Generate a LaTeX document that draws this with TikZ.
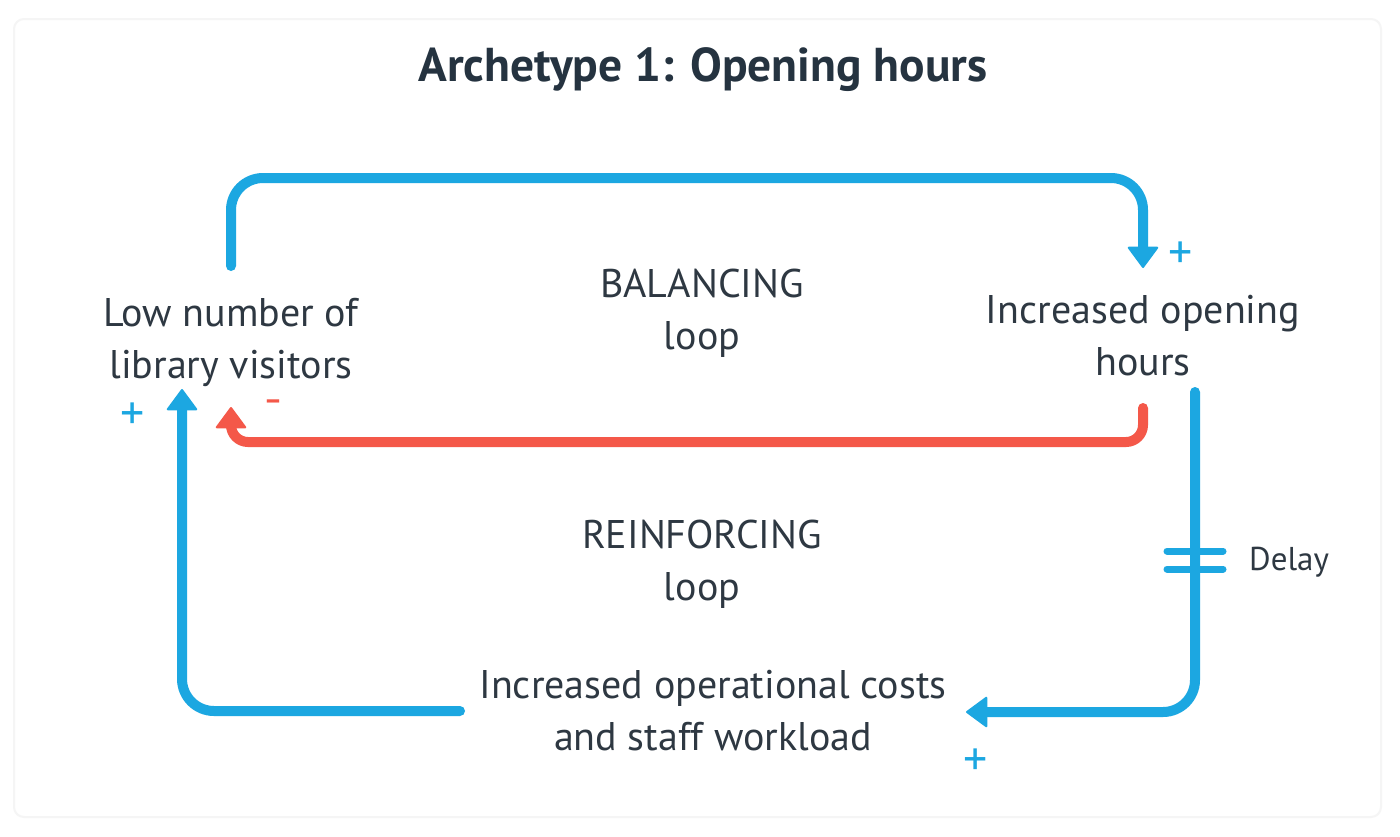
\documentclass[tikz,border=0pt]{standalone}
\usepackage{fontspec}
\setmainfont{PT Sans}
\usetikzlibrary{arrows.meta}
\definecolor{cblue}{HTML}{1CA7E1}
\definecolor{cred}{HTML}{F45849}
\definecolor{ctext}{HTML}{2E3842}
\definecolor{ctitle}{HTML}{253340}
\tikzset{
  lbl/.style={text=ctext, font=\fontsize{40}{52}\selectfont, align=center, inner sep=0pt, anchor=base},
  sign/.style={font=\fontsize{48}{48}\selectfont, inner sep=0pt},
  link/.style={line width=10pt, rounded corners=32pt, line cap=round},
  tip/.style={-{Triangle[length=22pt,width=32pt,line width=2pt,round]}},
  delaybar/.style={line width=7pt, line cap=round, cblue}
}
\begin{document}
\begin{tikzpicture}[x=1pt,y=-1pt]
\useasboundingbox (0,0) rectangle (1400,836);
\fill[white] (0,0) rectangle (1400,836);
\draw[black!4, line width=2pt, rounded corners=10pt] (14,19) rectangle (1381,817);

\node[text=ctitle, font=\fontsize{47.5}{50}\selectfont\bfseries, inner sep=0pt, anchor=base] (title) at (703,81) {Archetype 1: Opening hours};

\node[lbl] (visitors) at (231,378) {Low number of\\library visitors};
\node[lbl] (hours) at (1143,375) {Increased opening\\hours};
\node[lbl] (costs) at (713,750) {Increased operational costs\\and staff workload};
\node[lbl] (bal) at (702,349) {BALANCING\\loop};
\node[lbl] (rein) at (702,600) {REINFORCING\\loop};
\node[text=ctext, font=\fontsize{33}{34}\selectfont, inner sep=0pt, anchor=west] (delay) at (1249,562) {Delay};

\node[sign, text=cblue] (p1) at (1181,255) {+};
\node[sign, text=cblue] (p2) at (133,416) {+};
\node[sign, text=cblue] (p3) at (976,762) {+};
\node[sign, text=cred, font=\fontsize{28}{28}\selectfont\bfseries] (m1) at (273,405) {–};

% connector end points
\coordinate (a1) at (231,266);
\coordinate (a2) at (1143,268);
\coordinate (r1) at (1143,408);
\coordinate (r2) at (231,407);
\coordinate (b1) at (1195,392);
\coordinate (b2) at (966,712);
\coordinate (c1) at (460,711);
\coordinate (c2) at (182,389);
\coordinate (d1) at (1167,551);
\coordinate (d2) at (1223,551);
\coordinate (d3) at (1167,569);
\coordinate (d4) at (1223,569);

\draw[link, cblue, tip] (a1) |- (700,178) -| (a2);
\draw[link, cred, tip, rounded corners=17pt] (r1) |- (700,442) -| (r2);
\draw[link, cblue, tip] (b1) |- (b2);
\draw[link, cblue, tip] (c1) -| (c2);
\draw[delaybar] (d1) -- (d2);
\draw[delaybar] (d3) -- (d4);
\end{tikzpicture}
\end{document}
